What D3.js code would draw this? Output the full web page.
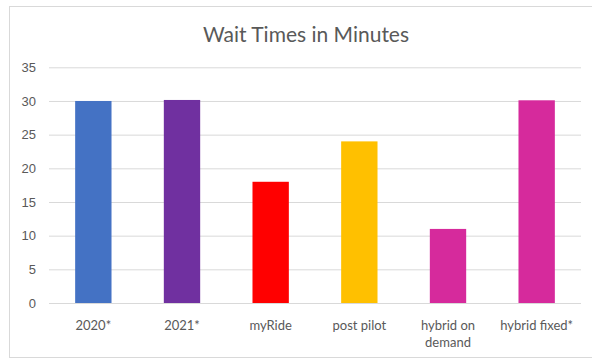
<!DOCTYPE html>
<html>
<head>
<meta charset="utf-8">
<script src="https://cdn.jsdelivr.net/npm/d3@7"></script>
<style>
  html, body { margin: 0; padding: 0; background: #ffffff; }
  svg { display: block; font-family: Lato, "Open Sans", "Liberation Sans", sans-serif; }
</style>
</head>
<body>
<svg id="chart" width="592" height="360"></svg>
<script>
// Wait times per service, in minutes
const categories = ["2020*", "2021*", "myRide", "post pilot", "hybrid on demand", "hybrid fixed*"];
const categoryLines = [["2020*"], ["2021*"], ["myRide"], ["post pilot"], ["hybrid on", "demand"], ["hybrid fixed*"]];
const waitMinutes = [30, 30.15, 18, 24, 11, 30.1];
const barColors = ["#4472C4", "#7030A0", "#FF0000", "#FFC000", "#D62A9C", "#D62A9C"];
const yTicks = [0, 5, 10, 15, 20, 25, 30, 35];
const title = "Wait Times in Minutes";

const svg = d3.select("#chart");
const plot = { left: 49, right: 581, top: 67.3, bottom: 303 };

// Chart frame
svg.append("rect")
  .attr("x", 9.5).attr("y", 6.5)
  .attr("width", 600).attr("height", 351)
  .attr("fill", "#ffffff")
  .attr("stroke", "#D9D9D9").attr("stroke-width", 1);

const x = d3.scaleBand()
  .domain(categories)
  .range([plot.left, plot.right])
  .paddingInner(0.59).paddingOuter(0.295);

const y = d3.scaleLinear()
  .domain([0, 35])
  .range([plot.bottom, plot.top]);

// Horizontal gridlines with value labels
const yAxis = d3.axisLeft(y)
  .tickValues(yTicks)
  .tickSize(-(plot.right - plot.left))
  .tickPadding(13)
  .tickFormat(d3.format("d"));

const gy = svg.append("g")
  .attr("transform", `translate(${plot.left},0)`)
  .call(yAxis);
gy.select(".domain").remove();
gy.selectAll(".tick line").attr("stroke", "#D9D9D9").attr("stroke-width", 1);
gy.selectAll(".tick text")
  .attr("fill", "#595959")
  .attr("font-size", "13px");

// Bars
svg.append("g")
  .selectAll("rect")
  .data(categories)
  .join("rect")
  .attr("x", d => x(d))
  .attr("width", x.bandwidth())
  .attr("y", (d, i) => y(waitMinutes[i]))
  .attr("height", (d, i) => y(0) - y(waitMinutes[i]))
  .attr("fill", (d, i) => barColors[i]);

// Baseline drawn over the bars' bottom edge
svg.append("line")
  .attr("x1", plot.left).attr("x2", plot.right)
  .attr("y1", y(0) + 0.5).attr("y2", y(0) + 0.5)
  .attr("stroke", "#D9D9D9");

// Category labels (wrapped)
const labels = svg.append("g")
  .selectAll("text")
  .data(categories)
  .join("text")
  .attr("x", d => x(d) + x.bandwidth() / 2)
  .attr("y", 330)
  .attr("text-anchor", "middle")
  .attr("fill", "#595959")
  .attr("font-size", "13px");
labels.each(function(d, i) {
  d3.select(this).selectAll("tspan")
    .data(categoryLines[i])
    .join("tspan")
    .attr("x", x(d) + x.bandwidth() / 2)
    .attr("dy", (t, j) => j === 0 ? 0 : 17)
    .text(t => t);
});

// Title
svg.append("text")
  .attr("x", 306).attr("y", 42)
  .attr("text-anchor", "middle")
  .attr("fill", "#595959")
  .attr("font-size", "21px")
  .text(title);
</script>
</body>
</html>
